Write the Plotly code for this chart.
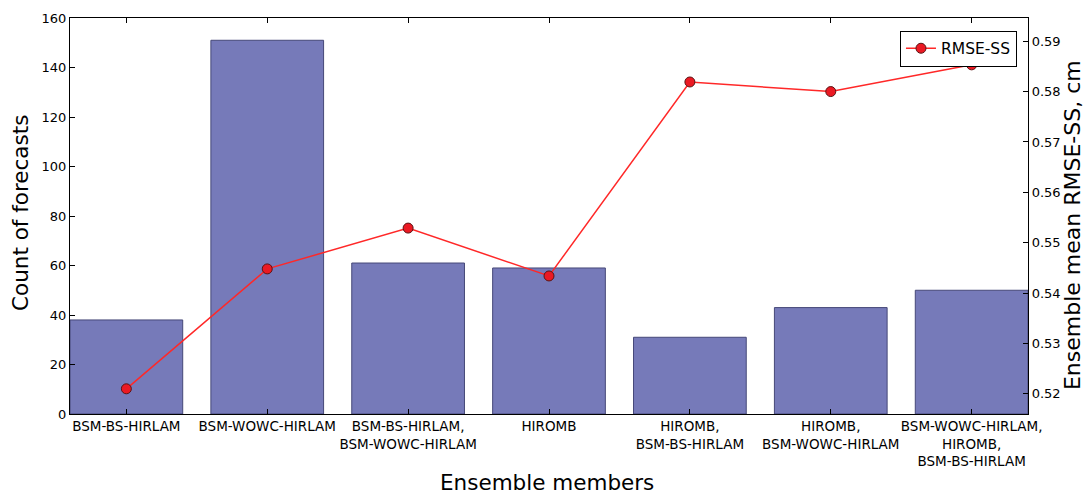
import plotly.graph_objects as go

categories = [
    "BSM-BS-HIRLAM",
    "BSM-WOWC-HIRLAM",
    "BSM-BS-HIRLAM,<br>BSM-WOWC-HIRLAM",
    "HIROMB",
    "HIROMB,<br>BSM-BS-HIRLAM",
    "HIROMB,<br>BSM-WOWC-HIRLAM",
    "BSM-WOWC-HIRLAM,<br>HIROMB,<br>BSM-BS-HIRLAM",
]
counts = [38, 151, 61, 59, 31, 43, 50]
rmse_ss = [0.521, 0.5448, 0.5529, 0.5434, 0.5819, 0.5800, 0.5853]
left_ticks = [0, 20, 40, 60, 80, 100, 120, 140, 160]
right_ticks = [0.52, 0.53, 0.54, 0.55, 0.56, 0.57, 0.58, 0.59]

x_idx = list(range(len(categories)))
FONT = "DejaVu Sans"

fig = go.Figure()
fig.add_trace(go.Bar(
    x=x_idx, y=counts, width=0.8,
    marker=dict(color="rgb(118,122,185)", line=dict(color="rgb(70,72,120)", width=1)),
    showlegend=False, yaxis="y",
))
fig.add_trace(go.Scatter(
    x=x_idx, y=rmse_ss, mode="lines+markers", name="RMSE-SS",
    line=dict(color="rgb(255,40,40)", width=1.5),
    marker=dict(color="rgb(235,25,35)", size=10, line=dict(color="rgb(90,20,20)", width=1)),
    yaxis="y2",
))

fig.update_layout(
    width=1087, height=496,
    margin=dict(l=70, r=59, t=18, b=82),
    plot_bgcolor="white", paper_bgcolor="white",
    font=dict(family=FONT, color="black"),
    xaxis=dict(
        range=[-0.4, 6.4], tickmode="array", tickvals=x_idx, ticktext=categories,
        tickangle=0, automargin=False,
        showline=True, linecolor="black", linewidth=1.2, mirror="ticks",
        ticks="inside", ticklen=5, tickcolor="black",
        tickfont=dict(size=13.5, family=FONT),
        showgrid=False, zeroline=False,
    ),
    yaxis=dict(
        range=[0, 160], tickmode="array", tickvals=left_ticks, automargin=False,
        showline=True, linecolor="black", linewidth=1.2,
        ticks="inside", ticklen=5, tickcolor="black",
        tickfont=dict(size=13, family=FONT),
        showgrid=False, zeroline=False,
    ),
    yaxis2=dict(
        overlaying="y", side="right",
        range=[0.516, 0.5946], tickmode="array", tickvals=right_ticks,
        tickformat=".2f", automargin=False,
        showline=True, linecolor="black", linewidth=1.2,
        ticks="inside", ticklen=5, tickcolor="black",
        tickfont=dict(size=13, family=FONT),
        showgrid=False, zeroline=False,
    ),
    legend=dict(
        x=0.9885, y=0.968, xanchor="right", yanchor="top",
        bgcolor="white", bordercolor="black", borderwidth=1,
        font=dict(size=15.5, family=FONT),
    ),
    annotations=[
        dict(text="Ensemble members", xref="paper", yref="paper", x=0.498, y=-0.172,
             xanchor="center", yanchor="middle", showarrow=False,
             font=dict(size=21.5, family=FONT)),
        dict(text="Count of forecasts", xref="paper", yref="paper", x=-0.0511, y=0.5076,
             xanchor="center", yanchor="middle", showarrow=False, textangle=-90,
             font=dict(size=21.5, family=FONT)),
        dict(text="Ensemble mean RMSE-SS, cm", xref="paper", yref="paper", x=1.0459, y=0.477,
             xanchor="center", yanchor="middle", showarrow=False, textangle=-90,
             font=dict(size=22, family=FONT)),
    ],
)

fig.write_html(
    "out.html",
    config={"displayModeBar": False},
    post_script="document.body.style.margin='0px';document.body.style.overflow='hidden';",
)
